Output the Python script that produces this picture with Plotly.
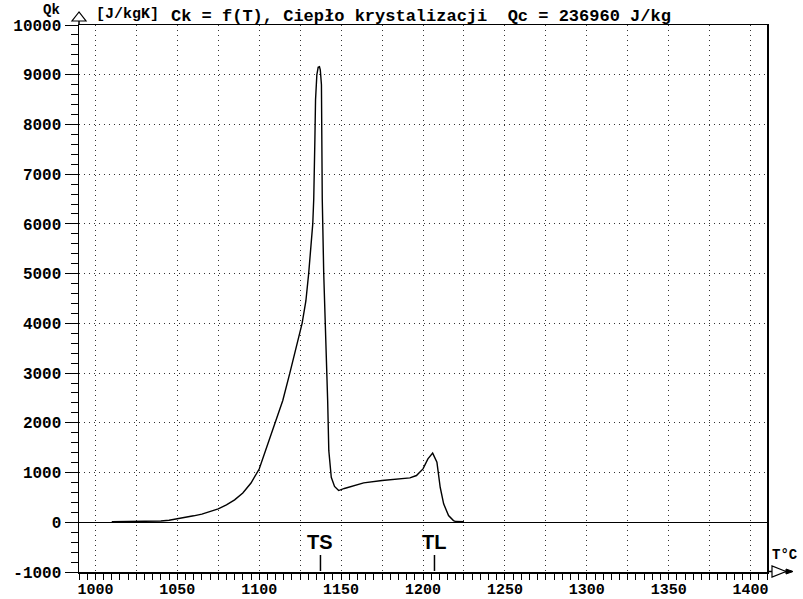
import plotly.graph_objects as go

# ---- data ----
T = [1010, 1020, 1030, 1040, 1045, 1050, 1055, 1060, 1065, 1070, 1075, 1080, 1085,
     1090, 1095, 1100, 1103, 1106.5, 1109, 1112, 1114.4, 1118.7, 1122.5, 1126.2,
     1128.5, 1130.2, 1132.7, 1133.3, 1134.0, 1134.4, 1135.2, 1136.0, 1136.8, 1137.3,
     1138.0, 1138.3, 1138.5, 1139.4, 1140.4, 1141.5, 1141.8, 1142.5, 1144.0, 1146.0,
     1148.5, 1152, 1155.7, 1163.8, 1175, 1185, 1192, 1196, 1200, 1203, 1205.9,
     1208.5, 1210.5, 1212.6, 1215.6, 1218.6, 1220, 1225]
Qk = [10, 12, 15, 25, 40, 65, 95, 130, 165, 210, 270, 350, 450,
      590, 790, 1070, 1360, 1700, 1960, 2230, 2450, 3000, 3500, 4000,
      4450, 5000, 6000, 6500, 7700, 8500, 9000, 9150, 9160, 9100,
      8800, 7700, 6500, 5000, 4000, 3000, 2450, 1440, 905, 720,
      638, 680, 718, 792, 839, 870, 893, 940, 1074, 1275, 1390,
      1207, 704, 370, 135, 34, 15, 12]

title_text = "Ck = f(T), Ciepło krystalizacji\u00a0\u00a0Qc = 236960 J/kg"
y_name = "Qk"
y_unit = "[J/kgK]"
x_name = "T°C"
mark_names = ["TS", "TL"]
mark_T = [1137.4, 1207.0]

x_range = [990, 1410]
y_range = [-1000, 10000]
x_tickvals = list(range(1000, 1401, 25))
x_ticktext = [str(v) if v % 50 == 0 else "" for v in x_tickvals]
y_tickvals = list(range(-1000, 10001, 1000))
y_ticktext = [str(v) for v in y_tickvals]

# ---- layout geometry (pixels) ----
W, H = 803, 599
ML, MR, MT, MB = 79, 36, 25, 27
PW, PH = W - ML - MR, H - MT - MB


def px(x):
    return (x - ML) / PW


def py(y):
    return (H - MB - y) / PH


MONO = "Liberation Mono"
fig = go.Figure()
fig.add_trace(go.Scatter(x=T, y=Qk, mode="lines",
                         line=dict(color="black", width=1.4),
                         showlegend=False, hoverinfo="skip"))

axis_common = dict(
    showline=True, linecolor="black", linewidth=1.5, mirror=True,
    ticks="outside", tickcolor="black", tickwidth=1, automargin=False,
    showgrid=True, gridcolor="#333", gridwidth=1, griddash="1px,4px",
)

fig.update_xaxes(range=x_range, tickmode="array", tickvals=x_tickvals,
                 ticktext=x_ticktext, ticklen=6, zeroline=False,
                 ticklabelstandoff=-4,
                 tickfont=dict(family=MONO, size=15, color="black", weight="bold"),
                 minor=dict(tick0=1000, dtick=5, ticks="outside", ticklen=6,
                            tickcolor="black", showgrid=False),
                 **axis_common)
fig.update_yaxes(range=y_range, tickmode="array", tickvals=y_tickvals,
                 ticktext=y_ticktext, ticklen=13, zeroline=True,
                 zerolinecolor="black", zerolinewidth=1.5,
                 tickfont=dict(family=MONO, size=16, color="black", weight="bold"),
                 minor=dict(tick0=0, dtick=200, ticks="outside", ticklen=7,
                            tickcolor="black", showgrid=False),
                 **axis_common)

ann = []
ann.append(dict(text=y_name, x=px(62), y=py(10), xref="paper", yref="paper",
                xanchor="right", yanchor="middle", showarrow=False,
                font=dict(family=MONO, size=14, color="black", weight="bold")))
ann.append(dict(text=y_unit, x=px(94), y=py(14), xref="paper", yref="paper",
                xanchor="left", yanchor="middle", showarrow=False,
                font=dict(family=MONO, size=15, color="black", weight="bold")))
ann.append(dict(text=title_text, x=px(169), y=py(17), xref="paper", yref="paper",
                xanchor="left", yanchor="middle", showarrow=False,
                font=dict(family=MONO, size=17, color="black", weight="bold")))
ann.append(dict(text=x_name, x=px(770), y=py(555), xref="paper", yref="paper",
                xanchor="left", yanchor="middle", showarrow=False,
                font=dict(family=MONO, size=14, color="black", weight="bold")))

shapes = []
for name, t in zip(mark_names, mark_T):
    ann.append(dict(text=name, x=t, y=py(542), xref="x", yref="paper",
                    xanchor="center", yanchor="middle", showarrow=False,
                    font=dict(family="Liberation Sans", size=20, color="black",
                              weight="bold")))
    shapes.append(dict(type="line", xref="x", yref="paper", x0=t, x1=t,
                       y0=py(571), y1=py(555), line=dict(color="black", width=1.5)))

# axis arrows
shapes.append(dict(type="line", xref="paper", yref="paper",
                   x0=px(79), x1=px(79), y0=py(25), y1=py(12),
                   line=dict(color="black", width=1.5)))
shapes.append(dict(type="path", xref="paper", yref="paper",
                   path=f"M {px(79)} {py(12)} L {px(72)} {py(21)} L {px(86)} {py(21)} Z",
                   line=dict(color="black", width=1.2), fillcolor="white"))
shapes.append(dict(type="line", xref="paper", yref="paper",
                   x0=px(767), x1=px(792), y0=py(571.5), y1=py(571.5),
                   line=dict(color="black", width=1.5)))
shapes.append(dict(type="path", xref="paper", yref="paper",
                   path=f"M {px(786)} {py(571.5)} L {px(772)} {py(566)} L {px(772)} {py(577)} Z",
                   line=dict(color="black", width=1.2), fillcolor="white"))
shapes.append(dict(type="path", xref="paper", yref="paper",
                   path=f"M {px(793)} {py(571.5)} L {px(786)} {py(569)} L {px(786)} {py(574)} Z",
                   line=dict(color="black", width=1), fillcolor="black"))

fig.update_layout(width=W, height=H, margin=dict(l=ML, r=MR, t=MT, b=MB, autoexpand=False),
                  paper_bgcolor="white", plot_bgcolor="white",
                  annotations=ann, shapes=shapes, showlegend=False)

fig.write_html("out.html", config={"displayModeBar": False, "staticPlot": True})

# remove the browser's default body margin so the figure sits at the page corner
with open("out.html", "r", encoding="utf-8") as f:
    html = f.read()
html = html.replace("<body>", '<body style="margin:0;padding:0;overflow:hidden">', 1)
with open("out.html", "w", encoding="utf-8") as f:
    f.write(html)
